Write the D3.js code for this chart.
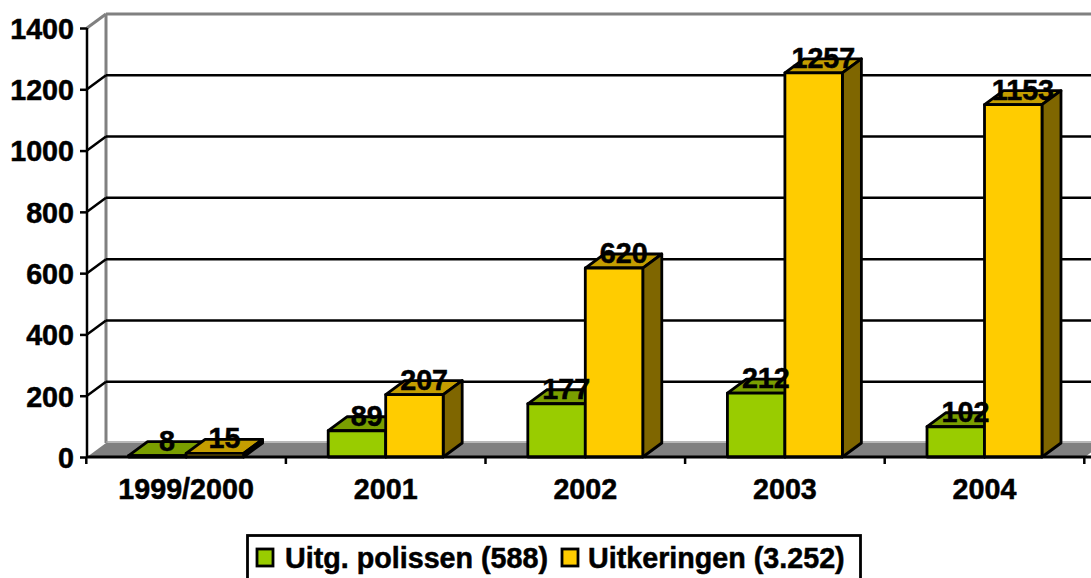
<!DOCTYPE html>
<html><head><meta charset="utf-8">
<script src="https://cdn.jsdelivr.net/npm/d3@7"></script>
<style>html,body{margin:0;padding:0;background:#fff;overflow:hidden}svg{display:block}text{font-family:"Liberation Sans",Arial,sans-serif;font-weight:bold;fill:#000;stroke:#000;stroke-width:.5px}</style>
</head><body><div id="c"></div>
<script>
const categories=["1999/2000","2001","2002","2003","2004"];
const seriesNames=["Uitg. polissen (588)","Uitkeringen (3.252)"];
const polissen=[8,89,177,212,102];
const uitkeringen=[15,207,620,1257,1153];
const yTicks=[0,200,400,600,800,1000,1200,1400];
const colors=[{front:"#99cc00",top:"#7a9e00",side:"#4d6600"},{front:"#ffcc00",top:"#c49d00",side:"#7f6600"}];
const W=1091,H=578,dx=19,dy=-14,fs="28.7px";
const svg=d3.select("#c").append("svg").attr("width",W).attr("height",H);
const y=d3.scaleLinear().domain([0,1400]).range([457,28]);
const x=d3.scaleBand().domain(categories).range([86.3,1084.3]).paddingInner(.424).paddingOuter(.212);
const x1=d3.scaleBand().domain([0,1]).range([0,x.bandwidth()]);
const line=(a,b,c,d,col,w)=>svg.append("line").attr("x1",a).attr("y1",b).attr("x2",c).attr("y2",d).attr("stroke",col).attr("stroke-width",w);
const poly=(p,f)=>svg.append("polygon").attr("points",p.map(q=>q.join(",")).join(" ")).attr("fill",f).attr("stroke","#000").attr("stroke-width",2.8).attr("stroke-linejoin","round");
svg.append("polygon").attr("points",[[87,y(0)],[87+dx,y(0)+dy],[1085+dx,y(0)+dy],[1085,y(0)]].map(q=>q.join(",")).join(" ")).attr("fill","#808080");
line(87+dx,y(1400)+dy,87+dx,y(0)+dy,"#808080",3);
line(87+dx,y(1400)+dy,W,y(1400)+dy,"#808080",3);
line(87,y(1400),87+dx,y(1400)+dy,"#808080",3);
line(87+dx,y(0)+dy-1,W,y(0)+dy-1,"#a0a0a0",1.5);
yTicks.slice(1,-1).forEach(t=>{
  line(87,y(t),87+dx,y(t)+dy,"#000",2.5);
  line(87+dx,y(t)+dy,W,y(t)+dy,"#000",2.5);
});
const ax=d3.axisLeft(y).tickValues(yTicks).tickFormat(d3.format("d")).tickSize(7).tickPadding(6);
const gy=svg.append("g").attr("transform","translate(87,0)").call(ax);
gy.selectAll("path").attr("stroke","#000").attr("stroke-width",2.5).attr("d",`M0,${y(1400)}V${y(0)}`);
gy.selectAll("line").attr("stroke","#000").attr("stroke-width",2.5);
gy.selectAll("text").style("font-size",fs).style("font-family",'"Liberation Sans",Arial,sans-serif').attr("dy","0.36em").attr("fill","#000");
const series=[polissen,uitkeringen];
categories.forEach((c,i)=>{
  series.forEach((s,k)=>{
    const a=x(c)+x1(k),b=a+x1.bandwidth(),t=y(s[i])+1,z=y(0),col=colors[k];
    poly([[a,t],[a+dx,t+dy],[b+dx,t+dy],[b,t]],col.top);
    poly([[b,t],[b+dx,t+dy],[b+dx,z+dy],[b,z]],col.side);
    poly([[a,t],[b,t],[b,z],[a,z]],col.front);
  });
});
line(87,y(0),W,y(0),"#000",2.8);
const step=x.step();
d3.range(categories.length+1).forEach(i=>line(86.3+step*i,y(0),86.3+step*i,y(0)+7,"#000",2.5));
categories.forEach(c=>svg.append("text").attr("x",x(c)+x.bandwidth()/2).attr("y",499).attr("text-anchor","middle").style("font-size",fs).text(c));
categories.forEach((c,i)=>series.forEach((s,k)=>{
  svg.append("text").attr("x",x(c)+x1(k)+x1.bandwidth()/2+9.7).attr("y",y(s[i])-4).attr("text-anchor","middle").style("font-size",fs).text(s[i]);
}));
svg.append("rect").attr("x",247.5).attr("y",535.5).attr("width",613).attr("height",60).attr("fill","#fff").attr("stroke","#000").attr("stroke-width",2.8);
[[257,285],[562,588]].forEach((p,k)=>{
  svg.append("rect").attr("x",p[0]).attr("y",549).attr("width",16).attr("height",17).attr("fill",colors[k].front).attr("stroke","#000").attr("stroke-width",2.8);
  svg.append("text").attr("x",p[1]).attr("y",568).style("font-size",fs).text(seriesNames[k]);
});
</script></body></html>
